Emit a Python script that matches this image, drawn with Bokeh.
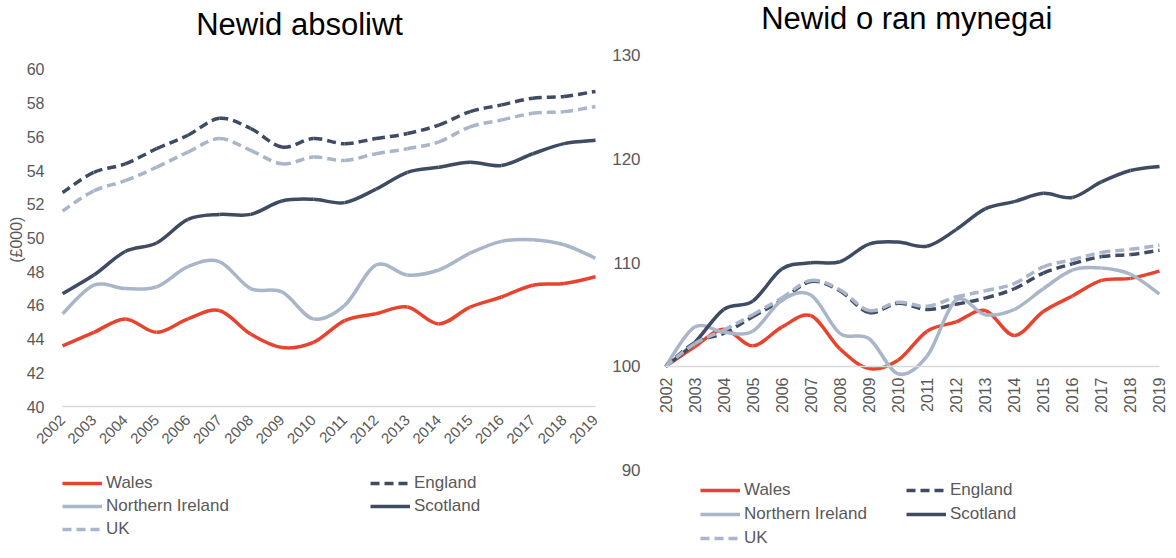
import math
import numpy as np
from bokeh.plotting import figure
from bokeh.models import FixedTicker, Legend, LegendItem, Range1d, Label
from bokeh.layouts import row
from bokeh.embed import file_html
from bokeh.resources import INLINE

years = list(range(2002, 2020))

# Absolute values (£000)
wales_abs = [43.6, 44.4, 45.2, 44.4, 45.2, 45.7, 44.3, 43.5, 43.8, 45.1, 45.5, 45.9, 44.9, 45.9, 46.5, 47.2, 47.3, 47.7]
england_abs = [52.7, 53.9, 54.4, 55.3, 56.1, 57.1, 56.5, 55.4, 55.9, 55.6, 55.9, 56.2, 56.7, 57.5, 57.9, 58.3, 58.4, 58.7]
ni_abs = [45.5, 47.2, 47.0, 47.1, 48.3, 48.6, 47.0, 46.8, 45.2, 46.0, 48.4, 47.8, 48.1, 49.1, 49.8, 49.9, 49.6, 48.8]
scotland_abs = [46.7, 47.8, 49.2, 49.7, 51.1, 51.4, 51.4, 52.2, 52.3, 52.1, 52.9, 53.9, 54.2, 54.5, 54.3, 55.0, 55.6, 55.8]
uk_abs = [51.6, 52.8, 53.4, 54.2, 55.1, 55.9, 55.2, 54.4, 54.8, 54.6, 55.0, 55.3, 55.7, 56.6, 57.0, 57.4, 57.5, 57.8]

# Index values (2002 = 100)
wales_idx = [100, 101.9, 103.6, 102.0, 103.8, 104.9, 101.7, 99.8, 100.6, 103.4, 104.3, 105.4, 103.0, 105.3, 106.8, 108.3, 108.5, 109.2]
england_idx = [100, 102.3, 103.2, 104.8, 106.4, 108.2, 107.3, 105.2, 106.1, 105.5, 106.0, 106.6, 107.5, 109.0, 109.9, 110.6, 110.8, 111.2]
ni_idx = [100, 103.8, 103.3, 103.4, 106.4, 106.9, 103.2, 102.7, 99.3, 101.0, 106.4, 105.0, 105.5, 107.5, 109.3, 109.5, 108.9, 107.0]
scotland_idx = [100, 102.3, 105.5, 106.3, 109.4, 110.0, 110.1, 111.8, 112.0, 111.6, 113.2, 115.2, 115.9, 116.7, 116.3, 117.8, 118.9, 119.3]
uk_idx = [100, 102.2, 103.5, 105.0, 106.6, 108.3, 107.4, 105.4, 106.2, 105.8, 106.7, 107.3, 108.0, 109.6, 110.3, 111.0, 111.3, 111.7]

abs_ticks = list(range(40, 61, 2))
idx_ticks = [90, 100, 110, 120, 130]

series_names = ["Wales", "England", "Northern Ireland", "Scotland", "UK"]
legend_col1 = ["Wales", "Northern Ireland", "UK"]
legend_col2 = ["England", "Scotland"]

RED = "#E8432E"
DARK = "#3E4B62"
LIGHT = "#A9B5C8"
styles = {
    "Wales": (RED, "solid"),
    "England": (DARK, "9 5"),
    "Northern Ireland": (LIGHT, "solid"),
    "Scotland": (DARK, "solid"),
    "UK": (LIGHT, "9 5"),
}
FONT = "Liberation Sans"
GREY = "#595959"


def bezier_segments(xs, ys):
    n = len(xs)
    d = dict(x0=[], y0=[], x1=[], y1=[], cx0=[], cy0=[], cx1=[], cy1=[])
    for i in range(n - 1):
        xp, yp = (xs[i - 1], ys[i - 1]) if i > 0 else (xs[i], ys[i])
        xn, yn = (xs[i + 2], ys[i + 2]) if i + 2 < n else (xs[i + 1], ys[i + 1])
        d["x0"].append(xs[i]); d["y0"].append(ys[i])
        d["x1"].append(xs[i + 1]); d["y1"].append(ys[i + 1])
        d["cx0"].append(xs[i] + (xs[i + 1] - xp) / 6.0)
        d["cy0"].append(ys[i] + (ys[i + 1] - yp) / 6.0)
        d["cx1"].append(xs[i + 1] - (xn - xs[i]) / 6.0)
        d["cy1"].append(ys[i + 1] - (yn - ys[i]) / 6.0)
    return d


def style_axes(p, xtick_size, ytick_size, ystandoff, x_at, y_at):
    p.outline_line_color = None
    p.xgrid.visible = False
    p.ygrid.visible = False
    p.yaxis.fixed_location = x_at
    p.yaxis.axis_line_color = None
    p.yaxis.major_tick_line_color = None
    p.yaxis.minor_tick_line_color = None
    p.yaxis.major_label_text_font = FONT
    p.yaxis.major_label_text_font_size = ytick_size
    p.yaxis.major_label_text_color = GREY
    p.yaxis.major_label_standoff = ystandoff
    p.xaxis.fixed_location = y_at
    p.xaxis.bounds = (years[0], years[-1])
    p.xaxis.axis_line_color = "#D9D9D9"
    p.xaxis.axis_line_width = 1.5
    p.xaxis.major_tick_line_color = None
    p.xaxis.minor_tick_line_color = None
    p.xaxis.major_label_text_font = FONT
    p.xaxis.major_label_text_font_size = xtick_size
    p.xaxis.major_label_text_color = GREY
    p.xaxis.ticker = FixedTicker(ticks=years)


def draw_series(p, data):
    proxies = {}
    for name, vals in zip(series_names, data):
        color, dash = styles[name]
        seg = bezier_segments(years, vals)
        p.bezier(line_color=color, line_width=3.5, line_dash=dash, **seg)
        # legend-only proxy (a single missing value, draws nothing on the plot)
        proxies[name] = p.line(x=np.array([years[0]], dtype=float), y=np.array([np.nan]),
                               line_color=color, line_width=3.5, line_dash=dash)
    return proxies


def add_legends(p, proxies, x1, x2, y1, y2, spacing, font_size):
    for names, loc in ((legend_col1, (x1, y1)), (legend_col2, (x2, y2))):
        items = [LegendItem(label=n, renderers=[proxies[n]]) for n in names]
        leg = Legend(items=items, location=loc, orientation="vertical",
                     spacing=spacing, glyph_width=40, glyph_height=20,
                     label_height=20, label_standoff=4, padding=0, margin=0,
                     border_line_color=None, background_fill_alpha=0,
                     label_text_font=FONT, label_text_font_size=font_size,
                     label_text_color=GREY)
        p.add_layout(leg)


# ---------- Left chart ----------
p1 = figure(width=600, height=550, output_backend="svg", toolbar_location=None,
            x_range=Range1d(2000.022, 2019.16), y_range=Range1d(31.573, 63.976),
            min_border_left=0, min_border_right=0, min_border_top=2, min_border_bottom=2)
style_axes(p1, "15px", "16px", 12, years[0], abs_ticks[0])
p1.yaxis.ticker = FixedTicker(ticks=abs_ticks)
p1.xaxis.major_label_orientation = math.pi / 4
px1 = draw_series(p1, [wales_abs, england_abs, ni_abs, scotland_abs, uk_abs])
p1.add_layout(Label(x=2009.56, y=62.67, text="Newid absoliwt", text_align="center",
                    text_baseline="alphabetic", text_font=FONT, text_font_size="31px",
                    text_color="#000000"))
p1.add_layout(Label(x=2000.53, y=49.9, text="(£000)", angle=math.pi / 2,
                    text_align="center", text_baseline="middle", text_font=FONT,
                    text_font_size="16px", text_color=GREY))
add_legends(p1, px1, 62, 370, 9, 32, 3, "17px")

# ---------- Right chart ----------
p2 = figure(width=568, height=550, output_backend="svg", toolbar_location=None,
            x_range=Range1d(1999.76, 2019.31), y_range=Range1d(82.444, 135.11),
            min_border_left=0, min_border_right=0, min_border_top=2, min_border_bottom=2)
style_axes(p2, "16px", "17px", 19, years[0], idx_ticks[1])
p2.yaxis.ticker = FixedTicker(ticks=idx_ticks)
p2.xaxis.major_label_orientation = math.pi / 2
px2 = draw_series(p2, [wales_idx, england_idx, ni_idx, scotland_idx, uk_idx])
p2.add_layout(Label(x=2010.30, y=133.56, text="Newid o ran mynegai", text_align="center",
                    text_baseline="alphabetic", text_font=FONT, text_font_size="31px",
                    text_color="#000000"))
add_legends(p2, px2, 100, 306, 0, 24, 4, "17px")

layout = row(p1, p2)
open("out.html", "w").write(file_html(layout, INLINE))
